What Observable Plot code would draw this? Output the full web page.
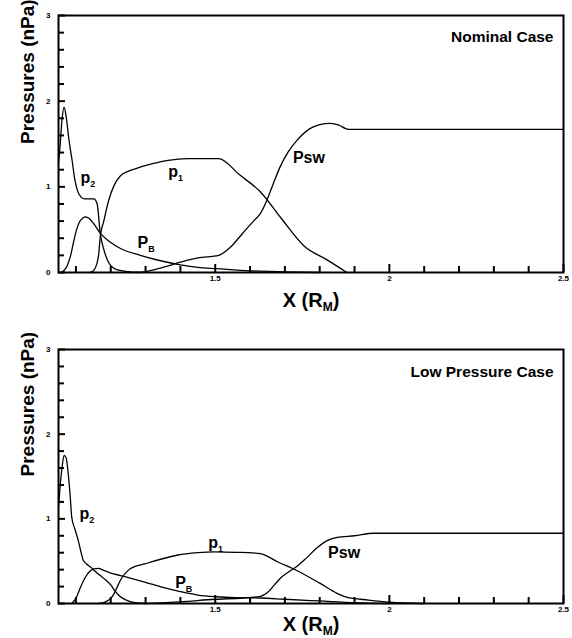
<!DOCTYPE html>
<html><head><meta charset="utf-8">
<script src="https://cdn.jsdelivr.net/npm/d3@7"></script>
<script src="https://cdn.jsdelivr.net/npm/@observablehq/plot@0.6"></script>
<style>body{margin:0;background:#fff;} svg{display:block;}</style>
</head><body><div id="chart"></div>
<script>
// ---- tick values ----
const xTickValues = [1.5, 2, 2.5];
const xMinorTicks = [1.1,1.2,1.3,1.4,1.6,1.7,1.8,1.9,2.1,2.2,2.3,2.4];
const yTickValues = [0, 1, 2, 3];
const yMinorTicks = [0.2,0.4,0.6,0.8,1.2,1.4,1.6,1.8,2.2,2.4,2.6,2.8];

// ---- Nominal case series [x (R_M), pressure (nPa)] ----
const nominalP2 = [[1.05,1.28],[1.055,1.5],[1.06,1.78],[1.066,1.93],[1.072,1.82],[1.08,1.55],[1.089,1.31],[1.097,1.08],[1.105,0.95],[1.115,0.88],[1.125,0.86],[1.14,0.86],[1.152,0.86],[1.161,0.8],[1.17,0.45],[1.18,0.27],[1.19,0.15],[1.2,0.08],[1.22,0.03],[1.25,0.01],[1.28,0]];
const nominalPB = [[1.058,0],[1.065,0.02],[1.075,0.08],[1.085,0.2],[1.094,0.37],[1.102,0.5],[1.11,0.59],[1.12,0.635],[1.128,0.65],[1.138,0.63],[1.151,0.57],[1.17,0.46],[1.2,0.35],[1.228,0.28],[1.285,0.2],[1.34,0.14],[1.4,0.09],[1.45,0.06],[1.505,0.045],[1.6,0.02],[1.7,0.008],[1.8,0]];
const nominalP1 = [[1.14,0],[1.15,0.02],[1.16,0.1],[1.165,0.2],[1.17,0.42],[1.18,0.6],[1.194,0.84],[1.21,1.02],[1.228,1.13],[1.25,1.18],[1.27,1.21],[1.32,1.27],[1.365,1.31],[1.42,1.33],[1.51,1.33],[1.57,1.14],[1.63,0.94],[1.69,0.63],[1.755,0.31],[1.82,0.15],[1.878,0]];
const nominalPsw = [[1.27,0],[1.3,0.01],[1.35,0.06],[1.4,0.12],[1.45,0.17],[1.51,0.2],[1.545,0.3],[1.577,0.45],[1.61,0.6],[1.63,0.69],[1.648,0.84],[1.667,1.04],[1.686,1.23],[1.71,1.41],[1.734,1.54],[1.772,1.68],[1.8,1.725],[1.83,1.74],[1.855,1.72],[1.875,1.68],[1.885,1.67],[2.5,1.67]];

// ---- Low pressure case series ----
const lowP2 = [[1.05,1.14],[1.055,1.4],[1.06,1.6],[1.066,1.75],[1.072,1.72],[1.078,1.53],[1.083,1.3],[1.088,1.02],[1.097,0.88],[1.107,0.74],[1.115,0.6],[1.121,0.51],[1.13,0.47],[1.142,0.43],[1.155,0.38],[1.17,0.33],[1.185,0.28],[1.2,0.22],[1.21,0.16],[1.22,0.11],[1.235,0.06],[1.25,0.03],[1.27,0.01],[1.3,0]];
const lowPB = [[1.088,0],[1.1,0.06],[1.113,0.19],[1.127,0.31],[1.14,0.38],[1.151,0.41],[1.165,0.415],[1.18,0.39],[1.2,0.36],[1.228,0.33],[1.256,0.3],[1.3,0.25],[1.35,0.19],[1.4,0.14],[1.45,0.1],[1.505,0.08],[1.56,0.07],[1.63,0.065],[1.7,0.05],[1.8,0.03],[1.9,0.01],[2.0,0]];
const lowP1 = [[1.165,0],[1.185,0.02],[1.2,0.06],[1.21,0.12],[1.218,0.19],[1.226,0.26],[1.233,0.31],[1.245,0.37],[1.256,0.41],[1.3,0.47],[1.39,0.57],[1.45,0.6],[1.495,0.61],[1.56,0.605],[1.629,0.59],[1.68,0.49],[1.734,0.39],[1.8,0.24],[1.85,0.12],[1.877,0.075],[1.94,0.04],[2.0,0.015],[2.1,0]];
const lowPsw = [[1.3,0],[1.4,0.02],[1.5,0.05],[1.58,0.065],[1.63,0.085],[1.65,0.13],[1.67,0.22],[1.69,0.31],[1.71,0.37],[1.735,0.44],[1.76,0.53],[1.79,0.65],[1.82,0.74],[1.85,0.78],[1.9,0.8],[1.955,0.83],[2.5,0.83]];

// ---- curve labels ----
const curveLabels = ["p2", "p1", "PB", "Psw"];
const nominalLabelX = [1.113, 1.365, 1.277, 1.723];
const nominalLabelY = [1.10, 1.17, 0.34, 1.34];
const lowLabelX = [1.11, 1.48, 1.385, 1.824];
const lowLabelY = [1.06, 0.72, 0.24, 0.60];

const panelTitles = ["Nominal Case", "Low Pressure Case"];
const yAxisLabel = "Pressures (nPa)";
const xAxisLabel = "X (RM)";

const W = 572, H = 319, ML = 58, MR = 9;

function panel(series, lx, ly, title, m) {
  const labelData = curveLabels.map((t, i) => ({t, x: lx[i], y: ly[i]}));
  const lines = series.map(s => Plot.line(s, {x: d => d[0], y: d => d[1], curve: "monotone-x", stroke: "black", strokeWidth: 1.3}));
  return Plot.plot({
    width: W, height: H,
    marginLeft: ML, marginRight: MR, marginTop: m.top, marginBottom: m.bottom,
    style: {fontFamily: "'Liberation Sans', Arial, sans-serif", background: "white"},
    x: {domain: [1.05, 2.5]},
    y: {domain: [0, 3]},
    marks: [
      ...lines,
      Plot.frame({strokeWidth: 2}),
      Plot.axisX({ticks: xMinorTicks, tickSize: -6, tickFormat: () => "", label: null, stroke: "black", strokeWidth: 2}),
      Plot.axisX({ticks: xTickValues, tickSize: -8, tickFormat: () => "", label: null, stroke: "black", strokeWidth: 2}),
      Plot.axisX({ticks: xTickValues, tickSize: 0, tickPadding: 3, tickFormat: d => String(d), label: null, fontSize: 8, fontWeight: "bold"}),
      Plot.axisY({ticks: yMinorTicks, tickSize: -6, tickFormat: () => "", label: null, stroke: "black", strokeWidth: 2}),
      Plot.axisY({ticks: yTickValues, tickSize: -7, tickFormat: () => "", label: null, stroke: "black", strokeWidth: 2}),
      Plot.axisY({ticks: yTickValues, tickSize: 0, tickPadding: 8, tickFormat: d => String(d), label: null, fontSize: 8, fontWeight: "bold"}),
      Plot.text(labelData, {x: "x", y: "y", text: "t", textAnchor: "start", fontSize: 16, fontWeight: "bold"}),
      Plot.text([title], {frameAnchor: "top-right", dx: -10, dy: m.titleDy, lineAnchor: "middle", fontSize: 15.5, fontWeight: "bold"}),
      Plot.text([yAxisLabel], {frameAnchor: "left", rotate: -90, dx: -31, fontSize: 19, fontWeight: "bold"}),
      Plot.text([xAxisLabel], {frameAnchor: "bottom", dy: m.xlabDy, lineAnchor: "middle", fontSize: 20, fontWeight: "bold"})
    ]
  });
}

const topPanel = panel([nominalP2, nominalPB, nominalP1, nominalPsw], nominalLabelX, nominalLabelY, panelTitles[0], {top: 15, bottom: 47, titleDy: 22, xlabDy: 28});
const bottomPanel = panel([lowP2, lowPB, lowP1, lowPsw], lowLabelX, lowLabelY, panelTitles[1], {top: 30, bottom: 35, titleDy: 23, xlabDy: 21});
const root = document.getElementById("chart");
root.appendChild(topPanel);
root.appendChild(bottomPanel);

// subscripts
const subs = {"p1": ["p", "1", 9, 4], "p2": ["p", "2", 9, 4], "PB": ["P", "B", 9, 4], "X (RM)": ["X (R", "M", 12, 4]};
d3.selectAll("#chart text").each(function() {
  const t = this.textContent;
  if (!(t in subs)) return;
  const [main, sub, fs, dy] = subs[t];
  const el = d3.select(this);
  el.text(null);
  el.append("tspan").text(main);
  el.append("tspan").attr("dy", dy).attr("font-size", fs).text(sub);
  if (t === "X (RM)") el.append("tspan").attr("dy", -dy).text(")");
});
</script>
</body></html>
